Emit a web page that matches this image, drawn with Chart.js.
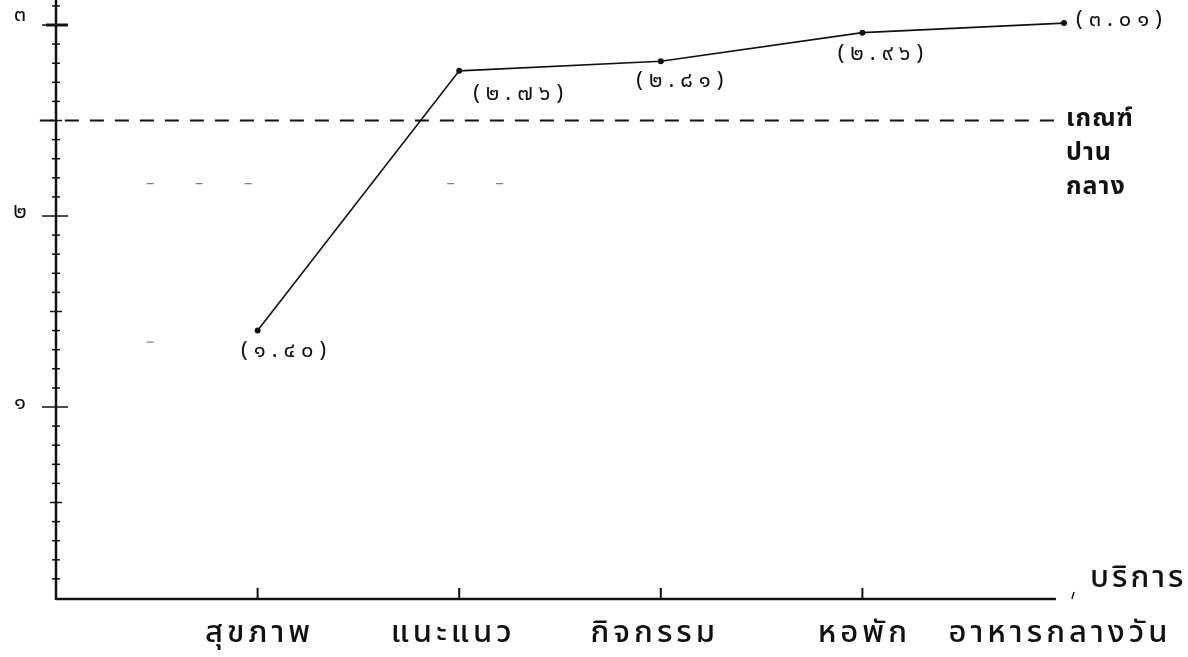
<!DOCTYPE html>
<html>
<head>
<meta charset="utf-8">
<script src="https://cdn.jsdelivr.net/npm/chart.js@4.4.1/dist/chart.umd.min.js"></script>
<style>
  html, body { margin: 0; padding: 0; background: #ffffff; }
  #wrap { width: 1188px; height: 657px; position: relative; }
</style>
</head>
<body>
<div id="wrap"><canvas id="chartServices"></canvas></div>
<script>
// Chart data
const categories = ["สุขภาพ", "แนะแนว", "กิจกรรม", "หอพัก", "อาหารกลางวัน"];
const scores = [1.40, 2.76, 2.81, 2.96, 3.01];
const scoreLabels = ["(๑.๔๐)", "(๒.๗๖)", "(๒.๘๑)", "(๒.๙๖)", "(๓.๐๑)"];
const yTickValues = [1, 2, 3];
const yTickLabels = ["๑", "๒", "๓"];
const criterion = 2.5;
const criterionLabel = ["เกณฑ์", "ปาน", "กลาง"];
const xAxisTitle = "บริการ";
// faint leftover dashes in the scan
const faintLevel = 2.17;
const strayLevel = 1.34;

const ink = "#111111";
const thaiFont = "'Noto Sans Thai', 'Noto Serif Thai', 'Tlwg Typo', 'Loma', 'Garuda', 'DejaVu Sans', sans-serif";

// Draw the axes, minor ticks and all text by hand so it looks like the scanned figure
const paperAxes = {
  id: "paperAxes",
  afterDatasetsDraw(chart) {
    const ctx = chart.ctx;
    const x = chart.scales.x;
    const y = chart.scales.y;
    const x0 = x.getPixelForValue(0);
    const y0 = y.getPixelForValue(0);

    ctx.save();
    ctx.strokeStyle = ink;
    ctx.fillStyle = ink;
    ctx.lineCap = "butt";

    // y axis
    ctx.lineWidth = 2.5;
    ctx.beginPath();
    ctx.moveTo(x0, 0);
    ctx.lineTo(x0, y0 + 2);
    ctx.stroke();

    // minor ticks every 0.1
    ctx.lineWidth = 1.5;
    for (let i = 1; i <= 31; i++) {
      const py = y.getPixelForValue(i / 10);
      const major = i % 10 === 0;
      const half = i % 5 === 0 ? 6 : 4;
      ctx.beginPath();
      ctx.moveTo(x0 - (major ? 14 : half), py);
      ctx.lineTo(x0 + (major ? 12 : half), py);
      ctx.stroke();
    }
    ctx.lineWidth = 3;
    ctx.beginPath();
    ctx.moveTo(x0 - 10, y.getPixelForValue(3));
    ctx.lineTo(x0 + 12, y.getPixelForValue(3));
    ctx.stroke();

    // x axis
    ctx.lineWidth = 2.5;
    ctx.beginPath();
    ctx.moveTo(x0, y0 + 1);
    ctx.lineTo(x.getPixelForValue(4.96), y0 + 1);
    ctx.stroke();
    ctx.lineWidth = 2;
    for (let i = 1; i < categories.length; i++) {
      const px = x.getPixelForValue(i);
      ctx.beginPath();
      ctx.moveTo(px, y0 + 1);
      ctx.lineTo(px, y0 - 10);
      ctx.stroke();
    }
    // little mark before the axis title
    ctx.lineWidth = 1.5;
    ctx.beginPath();
    ctx.moveTo(x.getPixelForValue(5) + 10, y0 - 6);
    ctx.lineTo(x.getPixelForValue(5) + 8, y0 + 1);
    ctx.stroke();

    // y tick labels
    ctx.font = "22px " + thaiFont;
    ctx.textAlign = "center";
    ctx.textBaseline = "middle";
    yTickValues.forEach((v, i) => {
      const lift = v === 3 ? 12 : 2;
      ctx.fillText(yTickLabels[i], 20, y.getPixelForValue(v) - 8 + (v === 3 ? 0 : 6));
    });

    // category labels (typewriter look)
    ctx.font = "500 31px " + thaiFont;
    ctx.letterSpacing = "4px";
    const shifts = [2, -6, -6, 2, -4];
    categories.forEach((c, i) => {
      const px = x.getPixelForValue(i + 1);
      ctx.fillText(c, px + shifts[i], y0 + 38);
    });

    // x axis title
    ctx.textAlign = "left";
    ctx.letterSpacing = "3px";
    ctx.fillText(xAxisTitle, x.getPixelForValue(5) + 26, y0 - 17);

    // criterion label
    ctx.letterSpacing = "1px";
    ctx.font = "bold 25px " + thaiFont;
    const cy = y.getPixelForValue(criterion);
    criterionLabel.forEach((t, i) => {
      ctx.fillText(t, x.getPixelForValue(5) + 2, cy + i * 34);
    });

    // value labels next to each point
    const offsets = [[26, 22], [59, 25], [19, 21], [18, 23], [55, -2]];
    ctx.font = "22px " + thaiFont;
    ctx.letterSpacing = "6px";
    ctx.textAlign = "center";
    scores.forEach((s, i) => {
      const px = x.getPixelForValue(i + 1);
      const py = y.getPixelForValue(s);
      ctx.fillText(scoreLabels[i], px + offsets[i][0] + 3, py + offsets[i][1]);
    });

    ctx.restore();
  }
};

new Chart(document.getElementById("chartServices").getContext("2d"), {
  type: "line",
  data: {
    datasets: [
      {
        label: "คะแนน",
        data: scores.map((s, i) => ({ x: i + 1, y: s })),
        borderColor: ink,
        borderWidth: 1.6,
        pointRadius: 3,
        pointBackgroundColor: ink,
        pointBorderWidth: 0,
        tension: 0,
        clip: false
      },
      {
        label: "เกณฑ์ปานกลาง",
        data: [{ x: -0.08, y: criterion }, { x: 4.98, y: criterion }],
        borderColor: ink,
        borderWidth: 2,
        borderDash: [14, 11],
        pointRadius: 0,
        clip: false
      },
      {
        label: "faint",
        data: [
          { x: 0.45, y: faintLevel }, { x: 1.06, y: faintLevel },
          { x: 1.5, y: null },
          { x: 1.94, y: faintLevel }, { x: 2.4, y: faintLevel },
          { x: 2.5, y: null },
          { x: 0.45, y: strayLevel }, { x: 0.49, y: strayLevel }
        ],
        borderColor: "rgba(0,0,0,0.5)",
        borderWidth: 1.2,
        borderDash: [7, 42],
        pointRadius: 0,
        spanGaps: false,
        clip: false
      }
    ]
  },
  options: {
    responsive: true,
    maintainAspectRatio: false,
    animation: false,
    layout: { padding: { left: 56, right: 124, top: 0, bottom: 59 } },
    plugins: {
      legend: { display: false },
      tooltip: { enabled: false }
    },
    scales: {
      x: { type: "linear", min: 0, max: 5, display: false },
      y: { type: "linear", min: 0, max: 3.11, display: false }
    }
  },
  plugins: [paperAxes]
});
</script>
</body>
</html>
